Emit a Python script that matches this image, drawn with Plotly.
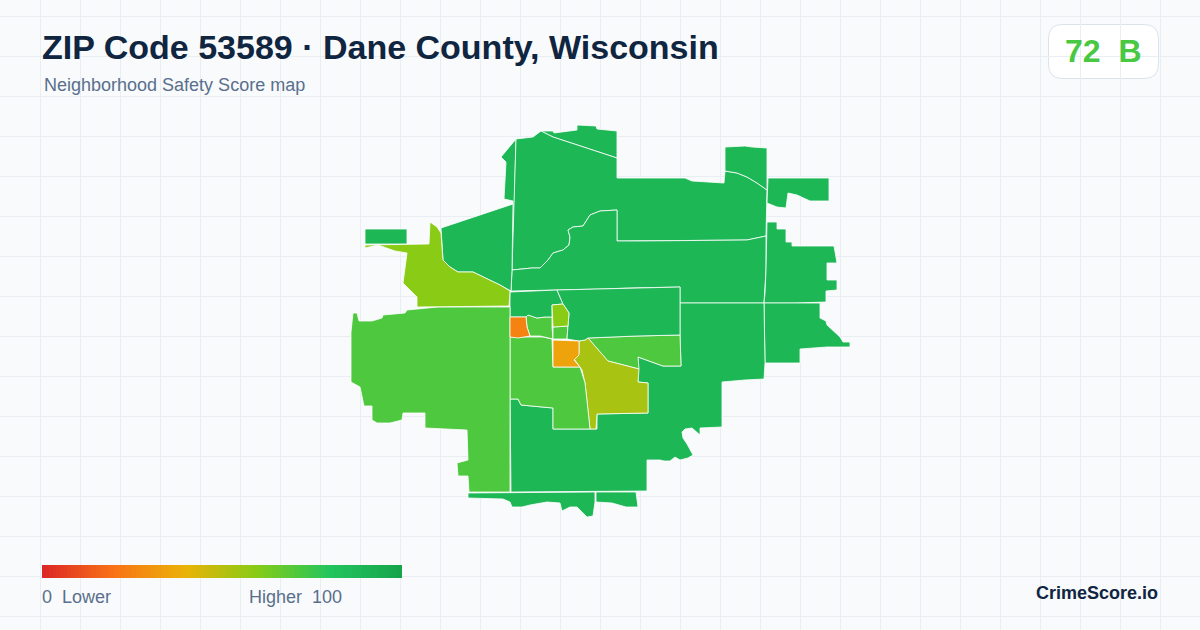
import plotly.graph_objects as go
from plotly.colors import sample_colorscale

# ---- text ----
TITLE = "ZIP Code 53589 · Dane County, Wisconsin"
SUBTITLE = "Neighborhood Safety Score map"
OVERALL_SCORE = 72
OVERALL_GRADE = "B"
BRAND = "CrimeScore.io"

# ---- colour scale (score fraction, colour) ----
SCALE_STOPS = [0, 0.2, 0.4, 0.6, 0.8, 1]
SCALE_COLORS = ["#dc2626", "#f97316", "#eab308", "#84cc16", "#22c55e", "#16a34a"]
SCALE = [list(p) for p in zip(SCALE_STOPS, SCALE_COLORS)]
LEGEND_VALUES = [i + 0.5 for i in range(100)]

# ---- tract outlines in map-grid units, with their scores ----
north_sliver_x = [541, 553, 554, 577, 577, 596, 597, 617, 617, 553]
north_sliver_y = [131, 131, 133, 130, 125, 126, 129, 131, 158, 137]
nw_wedge_x = [516, 501, 506, 504, 513, 513, 512.5]
nw_wedge_y = [139, 157, 162, 199, 201, 204, 270]
north_x = [516, 533, 541, 553, 617, 617, 663, 685, 692, 708, 720, 724, 725, 737, 747, 757, 767, 766, 747, 638, 617, 617, 600, 590, 585, 583, 573, 568, 570, 569, 563, 553, 548, 540, 532, 512]
north_y = [139, 137, 131, 137, 158, 178, 178, 178, 181, 182, 183, 183, 171, 173, 177, 183, 190, 236, 240, 241, 241, 210, 211, 215, 223, 226, 227, 230, 237, 245, 250, 253, 260, 268, 268, 270]
ne_cap_x = [725, 725, 745, 752, 767, 767, 757, 747, 737]
ne_cap_y = [171, 147, 146, 147, 148, 190, 183, 177, 173]
ne_block_x = [768, 829, 829, 810, 797, 788, 786, 777, 767]
ne_block_y = [178, 178, 201, 201, 195, 193, 208, 207, 203]
mid_band_x = [512, 532, 540, 548, 553, 563, 569, 570, 568, 573, 583, 585, 590, 600, 617, 617, 638, 747, 766, 766, 765, 764, 680, 680, 630, 600, 511]
mid_band_y = [270, 268, 268, 260, 253, 250, 245, 237, 230, 227, 226, 223, 215, 211, 210, 241, 241, 240, 236, 270, 293, 303, 303, 287, 288, 289, 291]
east_x = [767, 777, 777, 786, 786, 792, 792, 834, 837, 827, 827, 837, 837, 826, 826, 796, 764, 765, 766]
east_y = [222, 222, 229, 229, 242, 242, 246, 246, 263, 263, 280, 280, 290, 291, 302, 303, 303, 293, 270]
se_spur_x = [764, 796, 820, 820, 826, 827, 840, 843, 850, 850, 827, 800, 800, 765]
se_spur_y = [303, 303, 303, 318, 321, 325, 337, 342, 342, 347, 347, 349, 363, 363]
south_x = [680, 764, 765, 764, 745, 722, 722, 700, 700, 695, 692, 685, 682, 683, 687, 693, 688, 680, 675, 670, 664, 660, 647, 647, 511, 510, 518, 521, 553, 553, 597, 597, 648, 648, 638, 638, 663, 681, 680]
south_y = [303, 303, 363, 379, 380, 382, 427, 428, 435, 430, 428, 429, 432, 438, 444, 455, 458, 460, 457, 461, 461, 460, 460, 491, 492, 399, 399, 405, 408, 429, 429, 414, 413, 383, 382, 357, 366, 366, 335]
east_center_x = [588, 637, 680, 681, 663, 638, 639, 608, 605]
east_center_y = [338, 336, 335, 366, 366, 357, 369, 361, 358]
yellow_x = [588, 605, 608, 639, 638, 648, 648, 597, 596, 590, 588, 585, 582, 574, 579, 579, 585]
yellow_y = [338, 358, 361, 369, 382, 383, 413, 414, 429, 429, 410, 383, 370, 359, 353, 341, 340]
amber_x = [553, 579, 579, 574, 580, 553]
amber_y = [340, 341, 355, 360, 367, 367]
south_center_x = [510, 530, 543, 552, 553, 580, 585, 588, 590, 553, 553, 521, 518, 510]
south_center_y = [337, 337, 337, 339, 367, 367, 383, 410, 429, 429, 408, 405, 399, 399]
orange_x = [510, 526, 527, 530, 518, 510]
orange_y = [317, 317, 327, 336, 338, 337]
center_strip_x = [526, 528, 537, 545, 552, 552, 553, 540, 530, 527]
center_strip_y = [317, 315, 318, 317, 317, 327, 339, 336, 336, 327]
center_tab_x = [553, 568, 567, 553]
center_tab_y = [327, 326, 339, 339]
lime_small_x = [552, 563, 569, 568, 553]
lime_small_y = [305, 304, 313, 326, 327]
center_north_x = [510, 557, 563, 552, 552, 545, 537, 528, 526, 510]
center_north_y = [292, 290, 304, 305, 317, 317, 318, 315, 317, 317]
center_east_x = [557, 600, 630, 680, 680, 637, 588, 585, 579, 567, 568, 569, 563]
center_east_y = [290, 289, 288, 287, 335, 336, 338, 340, 341, 339, 326, 313, 304]
west_lime_x = [430, 437, 441, 443, 450, 458, 473, 483, 500, 510, 509, 417, 417, 403, 407, 395, 378, 365, 365, 429]
west_lime_y = [222, 227, 233, 260, 267, 272, 272, 277, 285, 291, 306, 307, 297, 283, 253, 251, 245, 248, 245, 244]
west_block_x = [365, 407, 407, 365]
west_block_y = [229, 229, 244, 244]
nw_center_x = [441, 513, 512, 511, 500, 483, 473, 458, 450, 443, 441]
nw_center_y = [228, 204, 270, 291, 285, 277, 272, 272, 267, 260, 233]
west_x = [510, 438, 407, 405, 383, 382, 372, 359, 357, 353, 351, 351, 360, 362, 364, 372, 372, 377, 390, 402, 403, 425, 425, 467, 468, 457, 458, 468, 469, 510]
west_y = [307, 307, 310, 313, 315, 318, 321, 321, 313, 313, 332, 382, 387, 397, 406, 406, 420, 423, 423, 420, 413, 413, 428, 430, 460, 463, 476, 476, 492, 492]
south_strip_x = [468, 573, 595, 595, 593, 587, 577, 570, 562, 560, 547, 530, 522, 512, 510, 503, 468]
south_strip_y = [493, 492, 492, 502, 516, 517, 507, 507, 511, 503, 502, 505, 507, 507, 502, 499, 498]
south_strip_e_x = [596, 636, 638, 626, 612, 596]
south_strip_e_y = [492, 492, 507, 507, 503, 502]

TRACTS = [
    (north_sliver_x, north_sliver_y, 88), (nw_wedge_x, nw_wedge_y, 88),
    (north_x, north_y, 88), (ne_cap_x, ne_cap_y, 88), (ne_block_x, ne_block_y, 88),
    (mid_band_x, mid_band_y, 88), (east_x, east_y, 88), (se_spur_x, se_spur_y, 88),
    (south_x, south_y, 88), (east_center_x, east_center_y, 71), (yellow_x, yellow_y, 53),
    (south_center_x, south_center_y, 71), (center_strip_x, center_strip_y, 71),
    (center_tab_x, center_tab_y, 71), (center_north_x, center_north_y, 88),
    (center_east_x, center_east_y, 88), (west_block_x, west_block_y, 88),
    (nw_center_x, nw_center_y, 88), (west_x, west_y, 71),
    (west_lime_x, west_lime_y, 59), (south_strip_x, south_strip_y, 88),
    (south_strip_e_x, south_strip_e_y, 88), (lime_small_x, lime_small_y, 59),
    (amber_x, amber_y, 35), (orange_x, orange_y, 25),
]

FONT = "Liberation Sans"
INK = "#0f2540"
MUTED = "#5a6f8c"
BG = "#f8fafc"


def score_color(score):
    return sample_colorscale(SCALE, [score / 100], colortype="rgb")[0]


fig = go.Figure()

for xs, ys, score in TRACTS:
    fig.add_trace(go.Scatter(
        x=xs + xs[:1], y=ys + ys[:1], mode="lines", fill="toself",
        fillcolor=score_color(score),
        line=dict(color="#ffffff", width=0.8),
        hoverinfo="skip", showlegend=False,
    ))

fig.add_trace(go.Heatmap(
    z=[LEGEND_VALUES], x0=43.8, dx=3.6, y0=571.5, dy=13,
    zmin=0, zmax=100, colorscale=SCALE, showscale=False, hoverinfo="skip",
))

fig.add_shape(type="rect", x0=0, x1=1200, y0=0, y1=96, layer="below",
              fillcolor=BG, line_width=0)
fig.add_shape(type="path",
              path="M 1062 24.5 L 1144 24.5 Q 1158.5 24.5 1158.5 39 L 1158.5 64 Q 1158.5 78.5 1144 78.5 "
                   "L 1062 78.5 Q 1048.5 78.5 1048.5 64 L 1048.5 39 Q 1048.5 24.5 1062 24.5 Z",
              fillcolor="#ffffff", line=dict(color="#dbe3ed", width=1), layer="below")


def label(x, y, text, size, color, bold=False, anchor="left"):
    fig.add_annotation(
        x=x, y=y, text=f"<b>{text}</b>" if bold else text, showarrow=False,
        xanchor=anchor, yanchor="middle", xshift=0,
        font=dict(family=FONT, size=size, color=color),
        borderpad=0, borderwidth=0,
    )


label(42, 47, TITLE, 34, INK, bold=True)
label(44, 85, SUBTITLE, 18, MUTED)
label(1103, 51, f"{OVERALL_SCORE}\u00a0\u00a0{OVERALL_GRADE}", 32, score_color(OVERALL_SCORE), bold=True, anchor="center")
label(42, 597, "0\u00a0\u00a0Lower", 18, MUTED)
label(249, 597, "Higher\u00a0\u00a0100", 18, MUTED)
label(1158, 593, BRAND, 18, INK, bold=True, anchor="right")

fig.update_layout(
    width=1200, height=630, margin=dict(l=0, r=0, t=0, b=0),
    paper_bgcolor=BG, plot_bgcolor=BG, showlegend=False,
    xaxis=dict(range=[0, 1200], tick0=0, dtick=40, showgrid=True, gridcolor="#e8eef2", gridwidth=1,
               zeroline=False, showticklabels=False, ticks="", fixedrange=True),
    yaxis=dict(range=[630, 0], tick0=16.5, dtick=40, showgrid=True, gridcolor="#e8eef2", gridwidth=1,
               zeroline=False, showticklabels=False, ticks="", fixedrange=True),
)
fig.write_html(
    "out.html",
    config={"displayModeBar": False},
    post_script="document.body.style.margin='0';document.body.style.overflow='hidden';"
                "document.body.style.background='#f8fafc';"
                "var s=document.createElement('style');"
                "s.textContent='svg text{text-rendering:auto !important}';"
                "document.head.appendChild(s);",
)
